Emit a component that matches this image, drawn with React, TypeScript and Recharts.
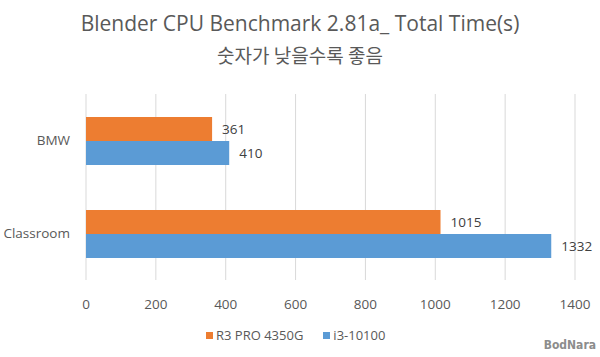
import React from 'react';
import { BarChart, Bar, XAxis, YAxis, CartesianGrid, LabelList } from 'recharts';

const categories = ['BMW', 'Classroom'];
const r3Values = [361, 1015];
const i3Values = [410, 1332];
const xTicks = [0, 200, 400, 600, 800, 1000, 1200, 1400];

const seriesNames = ['R3 PRO 4350G', 'i3-10100'];
const seriesColors = ['#ED7D31', '#5B9BD5'];

const FONT = '"Open Sans", "Noto Sans CJK KR", sans-serif';

const data = categories.map((name, i) => ({ name, r3: r3Values[i], i3: i3Values[i] }));

export default function App() {
  return (
    <div style={{ position: 'absolute', left: 0, top: 0, width: 600, height: 357, background: '#fff', fontFamily: FONT }}>
      <div style={{ position: 'absolute', top: 8, width: 600, textAlign: 'center', fontSize: 21, color: '#595959', lineHeight: '31px' }}>
        Blender CPU Benchmark 2.81a_ Total Time(s)
        <br />
        <span style={{ fontFamily: '"Noto Sans CJK KR", sans-serif', fontSize: 19 }}>숫자가 낮을수록 좋음</span>
      </div>
      <BarChart
        width={600}
        height={357}
        data={data}
        layout="vertical"
        margin={{ top: 94, right: 25, bottom: 42, left: 8 }}
        barGap={0}
        barSize={24}
      >
        <CartesianGrid horizontal={false} stroke="#d9d9d9" />
        <XAxis
          type="number"
          domain={[0, 1400]}
          ticks={xTicks}
          axisLine={false}
          tickLine={false}
          height={35}
          tick={{ fontSize: 13.5, fill: '#595959', fontFamily: FONT }}
          tickMargin={13}
          interval={0}
        />
        <YAxis
          type="category"
          dataKey="name"
          axisLine={false}
          tickLine={false}
          width={78}
          tick={{ fontSize: 13.5, fill: '#595959', fontFamily: FONT }}
          tickMargin={10}
        />
        <Bar dataKey="r3" fill={seriesColors[0]} isAnimationActive={false}>
          <LabelList dataKey="r3" position="right" offset={10} style={{ fontSize: 13.5, fill: '#404040', fontFamily: FONT }} />
        </Bar>
        <Bar dataKey="i3" fill={seriesColors[1]} isAnimationActive={false}>
          <LabelList dataKey="i3" position="right" offset={10} style={{ fontSize: 13.5, fill: '#404040', fontFamily: FONT }} />
        </Bar>
      </BarChart>
      <div style={{ position: 'absolute', top: 326, left: 206, display: 'flex', alignItems: 'center', fontSize: 13, color: '#595959' }}>
        {seriesNames.map((n, i) => (
          <div key={n} style={{ display: 'flex', alignItems: 'center', marginRight: 20 }}>
            <span style={{ width: 7, height: 7, background: seriesColors[i], display: 'inline-block', marginRight: 3 }} />
            <span>{n}</span>
          </div>
        ))}
      </div>
      <div style={{ position: 'absolute', right: 4, top: 337, fontSize: 12, fontWeight: 'bold', color: '#8c8c8c', whiteSpace: 'nowrap', lineHeight: '16px', fontFamily: '"DejaVu Sans Condensed", "Liberation Sans Narrow", sans-serif' }}>
        BodNara
      </div>
    </div>
  );
}
